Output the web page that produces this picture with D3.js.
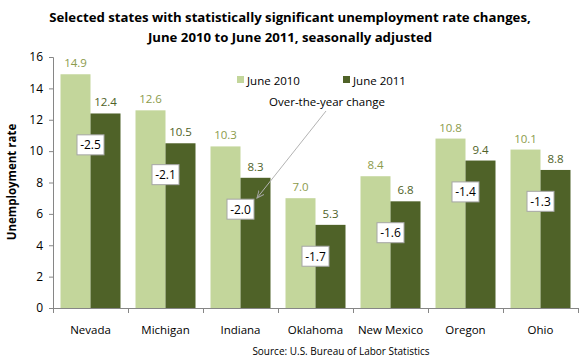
<!DOCTYPE html>
<html><head><meta charset="utf-8">
<script src="https://cdn.jsdelivr.net/npm/d3@7"></script>
<style>body{margin:0;background:#fff}svg{display:block}text{font-family:"Open Sans","Liberation Sans",sans-serif}</style>
</head><body><div id="chart"></div>
<script>
const states = ["Nevada","Michigan","Indiana","Oklahoma","New Mexico","Oregon","Ohio"];
const june2010 = [14.9,12.6,10.3,7.0,8.4,10.8,10.1];
const june2011 = [12.4,10.5,8.3,5.3,6.8,9.4,8.8];
const changes = [-2.5,-2.1,-2.0,-1.7,-1.6,-1.4,-1.3];
const yTicks = [0,2,4,6,8,10,12,14,16];
const seriesNames = ["June 2010","June 2011"];

const W=580,H=363;
const svg=d3.select("#chart").append("svg").attr("width",W).attr("height",H);
const x=d3.scaleBand().domain(states).range([53,578]).paddingInner(0.2).paddingOuter(0.1);
const y=d3.scaleLinear().domain([0,16]).range([308,57]);
const xs=d3.scaleBand().domain(seriesNames).range([0,x.bandwidth()]);
const colors=["#c3d69b","#4f6228"];
const labelColors=["#8c9b4c","#4f6228"];

// title
svg.append("text").attr("x",290).attr("y",22).attr("text-anchor","middle").attr("font-weight","bold").attr("font-size",13.2).attr("fill","#000").text("Selected states with statistically significant unemployment rate changes,");
svg.append("text").attr("x",290).attr("y",42).attr("text-anchor","middle").attr("font-weight","bold").attr("font-size",13.2).attr("fill","#000").text("June 2010 to June 2011, seasonally adjusted");

// axes
const yAxis=svg.append("g").attr("transform","translate(53,0)").call(d3.axisLeft(y).tickValues(yTicks).tickSize(4).tickFormat(d3.format("d")));
yAxis.select(".domain").attr("stroke","#868686").attr("d","M-4,57.5H0.5V308.5");
yAxis.selectAll(".tick line").attr("stroke","#868686");
yAxis.selectAll(".tick text").attr("font-size",12).attr("fill","#000").attr("x",-10);

const xAxis=svg.append("g").attr("transform","translate(0,308)");
xAxis.append("line").attr("x1",53).attr("x2",578).attr("y1",0.5).attr("y2",0.5).attr("stroke","#868686");
const bounds=states.map(s=>x(s)-x.step()*x.paddingInner()/2).concat([578]);
xAxis.selectAll(".bt").data(bounds).enter().append("line").attr("x1",d=>Math.round(d)+0.5).attr("x2",d=>Math.round(d)+0.5).attr("y1",0).attr("y2",5).attr("stroke","#868686");
xAxis.selectAll(".cl").data(states).enter().append("text").attr("x",d=>x(d)+x.bandwidth()/2).attr("y",25.5).attr("text-anchor","middle").attr("font-size",11.5).attr("fill","#000").text(d=>d);

svg.append("text").attr("transform","translate(16,182) rotate(-90)").attr("text-anchor","middle").attr("font-weight","bold").attr("font-size",11.5).attr("fill","#000").text("Unemployment rate");

// bars
const data=[june2010,june2011];
data.forEach((vals,si)=>{
  svg.selectAll(".b"+si).data(states).enter().append("rect")
    .attr("x",(d)=>x(d)+xs(seriesNames[si])).attr("width",xs.bandwidth())
    .attr("y",(d,i)=>y(vals[i])).attr("height",(d,i)=>y(0)-y(vals[i])).attr("fill",colors[si]);
  svg.selectAll(".l"+si).data(states).enter().append("text")
    .attr("x",(d)=>x(d)+xs(seriesNames[si])+xs.bandwidth()/2).attr("y",(d,i)=>y(vals[i])-7)
    .attr("text-anchor","middle").attr("font-size",11.5).attr("fill",labelColors[si]).text((d,i)=>vals[i].toFixed(1));
});

// change boxes
const boxes=svg.selectAll(".cb").data(states).enter().append("g")
  .attr("transform",(d,i)=>`translate(${x(d)+x.bandwidth()/2},${y(june2011[i]-2)})`);
boxes.append("rect").attr("x",-13.5).attr("y",-10).attr("width",27).attr("height",20).attr("fill","#fff").attr("stroke","#a6a6a6");
boxes.append("text").attr("y",4.5).attr("text-anchor","middle").attr("font-size",12).attr("fill","#000").text((d,i)=>changes[i].toFixed(1));

// legend
const leg=[[237,seriesNames[0]],[343,seriesNames[1]]];
leg.forEach(([lx,name],i)=>{
  svg.append("rect").attr("x",lx).attr("y",76).attr("width",7).attr("height",7).attr("fill",colors[i]);
  svg.append("text").attr("x",lx+10).attr("y",84.5).attr("font-size",11.5).attr("fill","#000").text(name);
});

// annotation
svg.append("text").attr("x",327).attr("y",106).attr("text-anchor","middle").attr("font-size",11.5).attr("fill","#000").text("Over-the-year change");
svg.append("defs").append("marker").attr("id","arr").attr("viewBox","0 0 10 10").attr("refX",9).attr("refY",5).attr("markerWidth",8).attr("markerHeight",8).attr("orient","auto")
  .append("path").attr("d","M0,1 L9,5 L0,9").attr("fill","none").attr("stroke","#a6a6a6").attr("stroke-width",1.2);
svg.append("line").attr("x1",326).attr("y1",111).attr("x2",257).attr("y2",198).attr("stroke","#b3b3b3").attr("stroke-width",1).attr("marker-end","url(#arr)");

svg.append("text").attr("x",341).attr("y",355).attr("text-anchor","middle").attr("font-size",10).attr("fill","#000").text("Source: U.S. Bureau of Labor Statistics");
</script></body></html>
